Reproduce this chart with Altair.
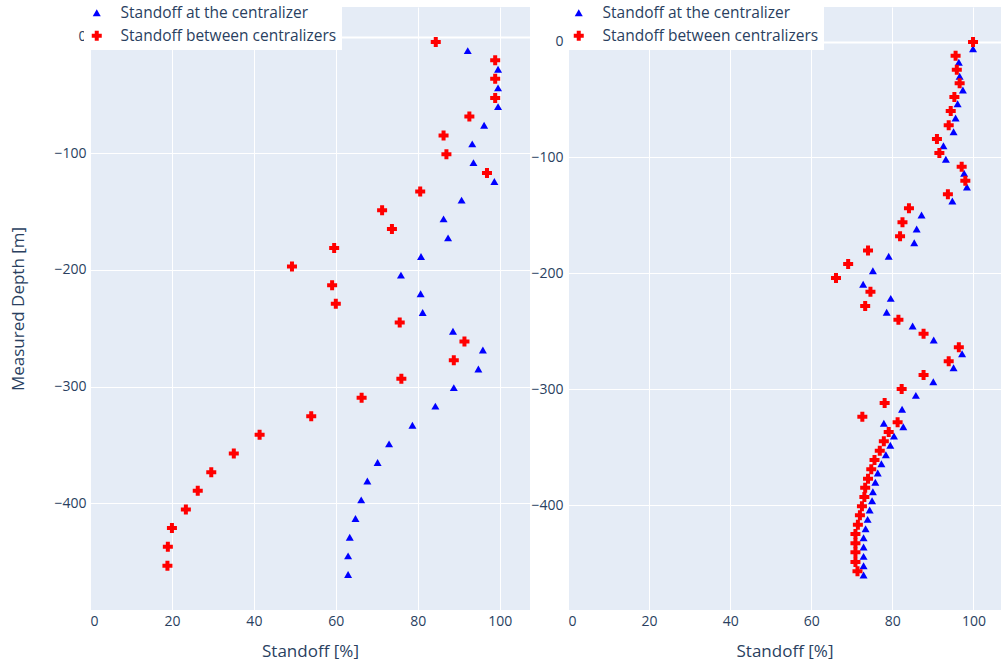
import altair as alt
import pandas as pd

SER_C = "Standoff at the centralizer"
SER_B = "Standoff between centralizers"

# ---- Left panel ----
left_cent_depth = [-12.1, -28.0, -44.0, -60.1, -76.0, -92.0, -108.1, -124.3, -140.2, -156.3,
                   -172.6, -188.6, -204.5, -220.5, -236.6, -252.6, -268.6, -284.9, -300.9, -316.8,
                   -333.1, -349.1, -365.1, -381.0, -397.1, -413.1, -429.1, -445.1, -461.1]
left_cent_standoff = [92.2, 99.6, 99.6, 99.6, 96.2, 93.3, 93.6, 98.7, 90.7, 86.3,
                      87.4, 80.8, 75.9, 80.7, 81.2, 88.6, 95.9, 94.8, 88.8, 84.3,
                      78.7, 73.0, 70.2, 67.7, 66.2, 64.8, 63.4, 63.0, 63.0]
left_betw_depth = [-4.6, -20.3, -36.3, -52.6, -68.6, -84.9, -100.9, -116.9, -132.9, -148.8,
                   -164.9, -181.2, -197.2, -213.1, -229.1, -245.1, -261.4, -277.4, -293.4, -309.5,
                   -325.4, -341.4, -357.4, -373.4, -389.4, -405.4, -421.3, -437.3, -453.6]
left_betw_standoff = [84.4, 98.9, 98.9, 98.9, 92.6, 86.3, 87.0, 96.9, 80.6, 71.3,
                      73.7, 59.6, 49.3, 59.1, 60.0, 75.6, 91.4, 88.8, 76.0, 66.3,
                      54.0, 41.4, 35.1, 29.6, 26.3, 23.4, 20.0, 19.0, 18.9]

# ---- Right panel ----
right_cent_depth = [-6.2, -17.9, -30.0, -41.8, -53.7, -66.0, -77.8, -89.9, -101.6, -113.7,
                    -125.5, -137.6, -149.7, -161.8, -173.6, -185.3, -197.8, -209.5, -221.6, -233.6,
                    -245.5, -257.5, -269.4, -281.4, -293.5, -305.3, -317.3, -329.4, -332.4, -340.4,
                    -348.4, -356.5, -364.3, -372.3, -380.3, -388.4, -396.2, -404.2, -412.3, -420.4,
                    -428.1, -436.2, -444.2, -452.3, -460.3]
right_cent_standoff = [99.9, 96.4, 96.6, 97.4, 96.1, 95.6, 95.1, 92.6, 93.2, 97.7,
                       98.4, 94.8, 87.2, 86.0, 85.4, 79.1, 75.2, 72.8, 79.6, 78.6,
                       85.0, 90.2, 97.2, 95.1, 90.1, 85.8, 82.4, 77.9, 82.7, 80.4,
                       79.5, 78.4, 77.3, 76.4, 75.8, 75.2, 75.0, 74.4, 73.9, 73.4,
                       72.9, 72.9, 72.9, 72.9, 72.9]
right_betw_depth = [-0.4, -12.3, -24.3, -36.1, -47.9, -60.0, -72.3, -84.1, -96.2, -108.0,
                    -120.1, -131.8, -143.9, -156.0, -168.1, -180.2, -192.0, -204.1, -215.9, -228.2,
                    -240.0, -252.1, -263.8, -275.9, -287.7, -299.8, -311.9, -323.7, -328.6, -336.9,
                    -344.9, -353.1, -361.1, -369.1, -377.2, -385.0, -393.0, -401.0, -408.8, -416.9,
                    -424.9, -433.0, -440.7, -449.1, -457.1]
right_betw_standoff = [99.9, 95.6, 95.9, 96.6, 95.3, 94.4, 93.9, 91.0, 91.6, 97.1,
                       98.0, 93.7, 84.1, 82.5, 81.9, 74.0, 69.1, 66.1, 74.6, 73.3,
                       81.5, 87.7, 96.4, 93.9, 87.7, 82.3, 78.1, 72.6, 81.3, 79.1,
                       77.9, 76.9, 75.6, 74.8, 74.0, 73.3, 73.1, 72.5, 72.0, 71.5,
                       70.9, 70.9, 70.9, 70.9, 71.4]

x_ticks = [0, 20, 40, 60, 80, 100]
y_ticks = [-400, -300, -200, -100, 0]

FONT = "Open Sans"
INK = "#2a3f5f"


def frame(dc, sc, db, sb):
    return pd.DataFrame({
        "depth": dc + db,
        "standoff": sc + sb,
        "series": [SER_C] * len(dc) + [SER_B] * len(db),
    })


def panel(df, xdom, ydom, width, ytitle, legend_x, ylabel_pad):
    legend = alt.Legend(
        title=None, orient="none", legendX=legend_x, legendY=-7,
        fillColor="white", padding=5, labelFontSize=15.5, labelFont=FONT,
        labelColor=INK, labelLimit=400, symbolSize=80, rowPadding=6, labelOffset=16,
        symbolOffset=0, symbolStrokeWidth=0,
    )
    yaxis_kwargs = dict(values=y_ticks, labelPadding=ylabel_pad,
                        gridWidth={"expr": "datum.value == 0 ? 2 : 1"})
    if ytitle:
        yaxis_kwargs.update(title=ytitle, titlePadding=26)
    else:
        yaxis_kwargs.update(title="")
    return alt.Chart(df).mark_point(filled=True, opacity=1, strokeWidth=0).encode(
        x=alt.X("standoff:Q", scale=alt.Scale(domain=xdom, nice=False, zero=False),
                axis=alt.Axis(values=x_ticks, title="Standoff [%]", labelPadding=4, titlePadding=15)),
        y=alt.Y("depth:Q", scale=alt.Scale(domain=ydom, nice=False, zero=False),
                axis=alt.Axis(**yaxis_kwargs)),
        color=alt.Color("series:N", scale=alt.Scale(domain=[SER_C, SER_B], range=["#0000ff", "#ff0000"]),
                        legend=legend),
        shape=alt.Shape("series:N", scale=alt.Scale(domain=[SER_C, SER_B], range=["triangle-up", "cross"]),
                        legend=legend),
        size=alt.Size("series:N", scale=alt.Scale(domain=[SER_C, SER_B], range=[64, 100]), legend=None),
    ).properties(width=width, height=603)


left = panel(frame(left_cent_depth, left_cent_standoff, left_betw_depth, left_betw_standoff),
             [0, 107.4], [-491.5, 25.3], 440, "Measured Depth [m]", -6, 4)
right = panel(frame(right_cent_depth, right_cent_standoff, right_betw_depth, right_betw_standoff),
              [0, 106.8], [-490.5, 29.8], 433, None, -2, 5)

chart = alt.hconcat(left, right, spacing=0).resolve_scale(
    color="independent", shape="independent", size="independent"
).configure(
    padding={"left": 9, "top": 0, "right": 0, "bottom": 0},
    background="white",
).configure_view(
    fill="#E5ECF6", stroke=None,
).configure_axis(
    domain=False, ticks=False, gridColor="white", gridWidth=1,
    labelFont=FONT, labelFontSize=14, labelColor=INK,
    titleFont=FONT, titleFontSize=17, titleFontWeight="normal", titleColor=INK,
)

chart.save("out.html", embed_options={"renderer": "svg", "actions": False})
